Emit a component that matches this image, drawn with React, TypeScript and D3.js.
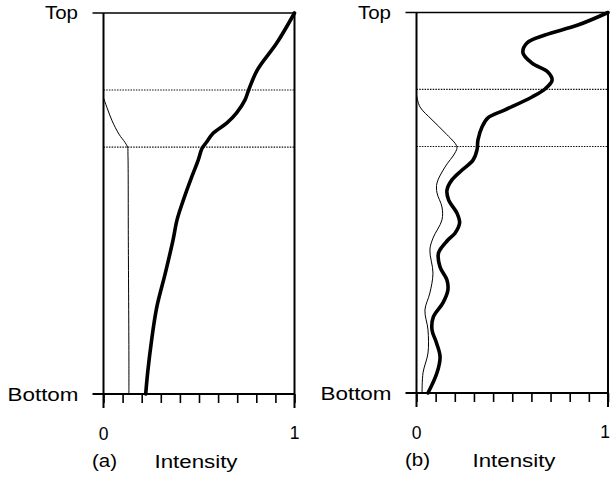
import React, { useEffect, useRef } from 'react';
import * as d3 from 'd3';

// depth fraction: 0 = bottom, 1 = top
const bandLimits = [0.648, 0.798];
const tickValues = d3.range(0, 11).map((i) => i / 10);

// panel (a)
const aThickDepth = [0, 0.055, 0.142, 0.228, 0.318, 0.404, 0.457, 0.509, 0.57, 0.614, 0.64, 0.648, 0.66, 0.685, 0.711, 0.738, 0.772, 0.798, 0.85, 0.921, 1.0];
const aThickValue = [0.221, 0.231, 0.252, 0.279, 0.324, 0.364, 0.385, 0.418, 0.462, 0.496, 0.512, 0.52, 0.538, 0.575, 0.645, 0.697, 0.741, 0.76, 0.805, 0.907, 1.0];
const aThinDepth = [0.777, 0.752, 0.717, 0.682, 0.66, 0.648, 0.63, 0.4, 0.1, 0];
const aThinValue = [0, 0.018, 0.045, 0.081, 0.113, 0.126, 0.128, 0.13, 0.133, 0.133];

// panel (b)
const bThickDepth = [1.0, 0.967, 0.941, 0.92, 0.894, 0.867, 0.843, 0.822, 0.799, 0.778, 0.744, 0.723, 0.699, 0.665, 0.639, 0.612, 0.586, 0.56, 0.533, 0.507, 0.473, 0.447, 0.42, 0.402, 0.368, 0.331, 0.297, 0.271, 0.237, 0.2, 0.166, 0.131, 0.095, 0.053, 0];
const bThickValue = [1.0, 0.843, 0.671, 0.577, 0.556, 0.603, 0.687, 0.708, 0.671, 0.603, 0.462, 0.373, 0.342, 0.321, 0.316, 0.295, 0.238, 0.185, 0.159, 0.168, 0.211, 0.225, 0.201, 0.164, 0.115, 0.123, 0.159, 0.164, 0.138, 0.088, 0.081, 0.105, 0.123, 0.107, 0.06];
const bThinDepth = [0.783, 0.752, 0.718, 0.684, 0.647, 0.631, 0.594, 0.552, 0.526, 0.489, 0.455, 0.407, 0.376, 0.315, 0.263, 0.218, 0.166, 0.105, 0.053, 0];
const bThinValue = [0, 0.018, 0.081, 0.149, 0.211, 0.201, 0.149, 0.107, 0.107, 0.133, 0.133, 0.086, 0.07, 0.086, 0.07, 0.044, 0.06, 0.06, 0.034, 0.029];

const panels = [
  { tag: '(a)', x0: 103.5, x1: 294.5, top: 13, bottom: 394, labelCx: 196, oneAnchor: 'middle',
    thick: [aThickDepth, aThickValue], thin: [aThinDepth, aThinValue] },
  { tag: '(b)', x0: 416.5, x1: 608, top: 12.5, bottom: 393, labelCx: 514, oneAnchor: 'end',
    thick: [bThickDepth, bThickValue], thin: [bThinDepth, bThinValue] },
];

const FONT = '"Liberation Sans", Arial, Helvetica, sans-serif';

const App = () => {
  const ref = useRef<SVGSVGElement | null>(null);

  useEffect(() => {
    const svg = d3.select(ref.current);
    svg.selectAll('*').remove();

    panels.forEach((p) => {
      const x = d3.scaleLinear().domain([0, 1]).range([p.x0, p.x1]);
      const y = d3.scaleLinear().domain([0, 1]).range([p.bottom, p.top]);
      const g = svg.append('g');

      // dotted band lines
      bandLimits.forEach((b) => {
        g.append('line')
          .attr('x1', x(0)).attr('x2', x(1))
          .attr('y1', y(b)).attr('y2', y(b))
          .attr('stroke', '#111').attr('stroke-width', 1.1)
          .attr('stroke-dasharray', '1.5,1.2');
      });

      // frame
      g.append('line').attr('x1', x(0) - 11).attr('x2', x(1)).attr('y1', y(1)).attr('y2', y(1))
        .attr('stroke', '#000').attr('stroke-width', 1.6);
      g.append('line').attr('x1', x(0)).attr('x2', x(0)).attr('y1', y(1)).attr('y2', y(0) + 14)
        .attr('stroke', '#000').attr('stroke-width', 2);
      g.append('line').attr('x1', x(1)).attr('x2', x(1)).attr('y1', y(1)).attr('y2', y(0) + 14)
        .attr('stroke', '#000').attr('stroke-width', 2);

      // bottom axis with ticks
      const axis = d3.axisBottom(x).tickValues(tickValues).tickSize(9).tickFormat(() => '');
      const ag = g.append('g').attr('transform', `translate(0,${y(0)})`).call(axis);
      ag.select('.domain').remove();
      ag.selectAll('.tick line').attr('stroke', '#000').attr('stroke-width', 1.6);
      g.append('line').attr('x1', x(0) - 11).attr('x2', x(1)).attr('y1', y(0)).attr('y2', y(0))
        .attr('stroke', '#000').attr('stroke-width', 2);

      const drawSeries = (depths: number[], vals: number[], w: number) => {
        const pts: [number, number][] = depths.map((d, i) => [x(vals[i]), y(d)]);
        g.append('path')
          .attr('d', d3.line().curve(d3.curveCatmullRom.alpha(0.5))(pts))
          .attr('fill', 'none').attr('stroke', '#000')
          .attr('stroke-width', w)
          .attr('stroke-linejoin', 'round').attr('stroke-linecap', 'round');
      };
      drawSeries(p.thin[0] as number[], p.thin[1] as number[], 1);
      drawSeries(p.thick[0] as number[], p.thick[1] as number[], 3.6);

      const text = (s: string, tx: number, ty: number, anchor: string, len?: number) => {
        const t = g.append('text')
          .attr('x', tx).attr('y', ty)
          .attr('text-anchor', anchor)
          .attr('font-family', FONT).attr('font-size', 17.5)
          .attr('fill', '#000')
          .text(s);
        if (len) t.attr('textLength', len).attr('lengthAdjust', 'spacingAndGlyphs');
      };
      text('Top', x(0) - 25.5, y(1) + 6, 'end', 33);
      text('Bottom', x(0) - 25, y(0) + 6.5, 'end', 71);
      text('0', x(0), y(0) + 46, 'middle');
      text('1', p.oneAnchor === 'end' ? 610 : x(1), y(0) + 45, p.oneAnchor);
      text(p.tag, x(0) + 1, y(0) + 73, 'middle', 25);
      text('Intensity', p.labelCx, y(0) + 74, 'middle', 83);
    });
  }, []);

  return (
    <div style={{ position: 'fixed', left: 0, top: 0, background: '#fff' }}>
      <svg ref={ref} width={610} height={479} style={{ display: 'block' }} />
    </div>
  );
};

export default App;
